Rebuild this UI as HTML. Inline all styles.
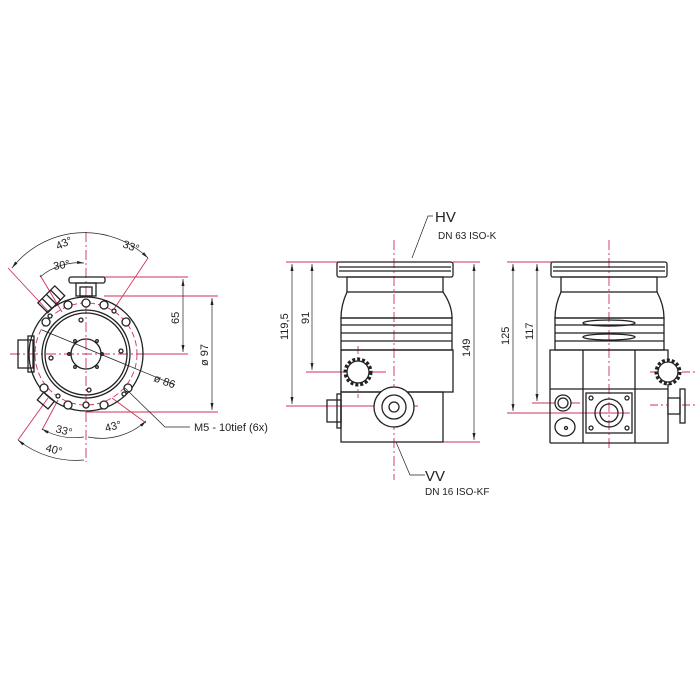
<!DOCTYPE html>
<html><head><meta charset="utf-8"><style>
html,body{margin:0;padding:0;background:#fff;}
svg{display:block}
text{font-family:"Liberation Sans",sans-serif;fill:#222}
</style></head><body>
<svg width="700" height="700" viewBox="0 0 700 700" xmlns="http://www.w3.org/2000/svg">
<defs>
<marker id="a" markerWidth="8" markerHeight="8" refX="7" refY="4" orient="auto-start-reverse" markerUnits="userSpaceOnUse"><path d="M0,2.5 L7,4 L0,5.5 z" fill="#222"/></marker>
</defs>
<g fill="none" stroke="#d0305a" stroke-width="0.9">
<line x1="86" y1="232" x2="86" y2="462" stroke-dasharray="10,3,2,3"/>
<line x1="10" y1="354" x2="150" y2="354" stroke-dasharray="10,3,2,3"/>
<line x1="104" y1="277" x2="188" y2="277"/>
<line x1="104" y1="296" x2="218" y2="296"/>
<line x1="140" y1="354" x2="188" y2="354"/>
<line x1="86" y1="412" x2="218" y2="412"/>
<line x1="8" y1="268" x2="48" y2="311"/>
<line x1="40" y1="275" x2="62" y2="312"/>
<line x1="148" y1="258" x2="114" y2="309"/>
<line x1="48" y1="398" x2="18" y2="440"/>
<line x1="58" y1="400" x2="42" y2="430"/>
<line x1="112" y1="398" x2="146" y2="423"/>
<circle cx="86" cy="354" r="51" stroke-dasharray="6,3"/>
<line x1="394" y1="240" x2="394" y2="480" stroke-dasharray="10,3,2,3"/>
<line x1="286" y1="262" x2="340" y2="262"/>
<line x1="453" y1="262" x2="480" y2="262"/>
<line x1="306" y1="372" x2="386" y2="372"/>
<line x1="358" y1="346" x2="358" y2="398" stroke-dasharray="8,3,2,3"/>
<line x1="286" y1="406" x2="418" y2="406"/>
<line x1="443" y1="442" x2="480" y2="442"/>
<line x1="609" y1="240" x2="609" y2="450" stroke-dasharray="10,3,2,3"/>
<line x1="507" y1="262" x2="552" y2="262"/>
<line x1="532" y1="403" x2="580" y2="403"/>
<line x1="507" y1="413" x2="630" y2="413"/>
<line x1="650" y1="372" x2="695" y2="372" stroke-dasharray="8,3,2,3"/>
<line x1="668" y1="355" x2="668" y2="392" stroke-dasharray="8,3,2,3"/>
<line x1="650" y1="405" x2="695" y2="405" stroke-dasharray="8,3,2,3"/>
</g>
<g fill="none" stroke="#222" stroke-width="1.3">
<circle cx="86" cy="354" r="57"/>
<circle cx="86" cy="354" r="44"/>
<circle cx="86" cy="354" r="41"/>
<circle cx="86" cy="354" r="15"/>
<rect x="76" y="283" width="20" height="13"/>
<rect x="80" y="287" width="12" height="9"/>
<rect x="69" y="277" width="36" height="6" rx="2"/>
<rect x="18" y="340" width="15" height="28"/>
<rect x="28" y="336" width="6" height="36"/>
<g transform="rotate(-45 52 300)"><rect x="40" y="292" width="24" height="14"/><line x1="46" y1="292" x2="46" y2="306"/><line x1="52" y1="292" x2="52" y2="306"/><line x1="58" y1="292" x2="58" y2="306"/></g>
<g transform="rotate(40 46 402)"><rect x="38" y="396" width="14" height="10"/></g>
<g fill="#fff">
<circle cx="86" cy="303" r="4"/><circle cx="68" cy="305" r="4"/><circle cx="104" cy="305" r="4"/>
<circle cx="46" cy="322" r="4"/><circle cx="126" cy="322" r="4"/>
<circle cx="44" cy="388" r="4"/><circle cx="128" cy="388" r="4"/>
<circle cx="68" cy="405" r="4"/><circle cx="86" cy="405" r="3"/><circle cx="104" cy="405" r="4"/>
<circle cx="58" cy="396" r="2"/><circle cx="114" cy="311" r="2"/><circle cx="50" cy="316" r="2"/><circle cx="124" cy="394" r="2"/>
</g>
<circle cx="81" cy="320" r="2"/><circle cx="121" cy="351" r="2"/><circle cx="51" cy="358" r="2"/><circle cx="89" cy="390" r="2"/>
<circle cx="75" cy="341" r="1.3"/><circle cx="97" cy="341" r="1.3"/><circle cx="102" cy="354" r="1.3"/><circle cx="97" cy="367" r="1.3"/><circle cx="75" cy="367" r="1.3"/><circle cx="69" cy="354" r="1.3"/>
</g>
<g fill="none" stroke="#222" stroke-width="0.7">
<line x1="42" y1="330" x2="175" y2="385"/>
<path d="M125,388 L165,427 L190,427"/>
<line x1="183" y1="279" x2="183" y2="352" marker-start="url(#a)" marker-end="url(#a)"/>
<line x1="212" y1="298" x2="212" y2="410" marker-start="url(#a)" marker-end="url(#a)"/>
<path d="M12,268 A92,92 0 0 1 148,258" marker-start="url(#a)" marker-end="url(#a)"/>
<path d="M40,277 A60,60 0 0 1 84,263" marker-end="url(#a)"/>
<path d="M42,429 A66,66 0 0 0 84,437" marker-start="url(#a)"/>
<path d="M88,437 A66,66 0 0 0 146,421" marker-end="url(#a)"/>
<path d="M18,440 A92,92 0 0 0 84,460" marker-start="url(#a)"/>
<path d="M396,442 L410,475 L425,475"/>
<line x1="292" y1="264" x2="292" y2="404" marker-start="url(#a)" marker-end="url(#a)"/>
<line x1="312" y1="264" x2="312" y2="370" marker-start="url(#a)" marker-end="url(#a)"/>
<line x1="474" y1="264" x2="474" y2="440" marker-start="url(#a)" marker-end="url(#a)"/>
<line x1="513" y1="264" x2="513" y2="411" marker-start="url(#a)" marker-end="url(#a)"/>
<line x1="537" y1="264" x2="537" y2="401" marker-start="url(#a)" marker-end="url(#a)"/>
<path d="M433,216 L428,216 L412,258"/>
</g>
<g fill="none" stroke="#222" stroke-width="1.3">
<rect x="337" y="262" width="116" height="15" rx="2"/>
<line x1="339" y1="267" x2="451" y2="267"/><line x1="339" y1="271" x2="451" y2="271"/>
<rect x="347" y="277" width="96" height="15"/>
<path d="M347,292 Q341,305 341,318 L452,318 Q452,305 443,292"/>
<rect x="341" y="318" width="111" height="32"/>
<line x1="341" y1="325" x2="452" y2="325"/><line x1="341" y1="333" x2="452" y2="333"/><line x1="341" y1="341" x2="452" y2="341"/>
<rect x="341" y="350" width="112" height="42"/>
<rect x="341" y="392" width="102" height="50"/>
<circle cx="394" cy="407" r="20" fill="#fff"/><circle cx="394" cy="407" r="12"/><circle cx="394" cy="407" r="5"/>
<circle cx="358" cy="372" r="13" fill="#fff" stroke-width="3" stroke-dasharray="3,2"/><circle cx="358" cy="372" r="11"/>
<rect x="327" y="400" width="14" height="22"/><rect x="337" y="394" width="4" height="34"/>
</g>
<g fill="none" stroke="#222" stroke-width="1.3">
<rect x="551" y="262" width="116" height="15" rx="2"/>
<line x1="553" y1="267" x2="665" y2="267"/><line x1="553" y1="271" x2="665" y2="271"/>
<rect x="561" y="277" width="96" height="15"/>
<path d="M561,292 Q555,305 555,318 L664,318 Q664,305 657,292"/>
<rect x="555" y="318" width="109" height="32"/>
<line x1="555" y1="325" x2="664" y2="325"/><line x1="555" y1="333" x2="664" y2="333"/><line x1="555" y1="341" x2="664" y2="341"/>
<ellipse cx="609" cy="323" rx="26" ry="3"/><ellipse cx="609" cy="337" rx="26" ry="3"/>
<path d="M550,443 L550,350 L583,350 L583,443 M583,350 L635,350 L635,443 M550,389 L668,389 L668,443 L550,443 M635,350 L668,350 L668,389"/>
<rect x="586" y="393" width="46" height="40"/>
<circle cx="609" cy="413" r="14"/><circle cx="609" cy="413" r="9"/>
<circle cx="591" cy="398" r="2"/><circle cx="627" cy="398" r="2"/><circle cx="591" cy="428" r="2"/><circle cx="627" cy="428" r="2"/>
<circle cx="563" cy="403" r="8" fill="#fff"/><circle cx="563" cy="403" r="5"/>
<ellipse cx="565" cy="427" rx="10" ry="9"/><circle cx="566" cy="428" r="1.5"/>
<circle cx="668" cy="372" r="12" fill="#fff" stroke-width="3" stroke-dasharray="3,2"/><circle cx="668" cy="372" r="10"/>
<rect x="668" y="398" width="12" height="16" fill="#fff"/><rect x="680" y="389" width="5" height="34"/>
</g>
<g font-size="11">
<text x="58" y="250" transform="rotate(-25 58 250)">43°</text>
<text x="122" y="247" transform="rotate(20 122 247)">33°</text>
<text x="54" y="270" transform="rotate(-10 54 270)">30°</text>
<text x="55" y="432" transform="rotate(15 55 432)">33°</text>
<text x="106" y="432" transform="rotate(-15 106 432)">43°</text>
<text x="45" y="451" transform="rotate(15 45 451)">40°</text>
<text x="179" y="324" transform="rotate(-90 179 324)">65</text>
<text x="208" y="366" transform="rotate(-90 208 366)">ø 97</text>
<text x="153" y="381" transform="rotate(20 153 381)">ø 86</text>
<text x="194" y="431">M5 - 10tief (6x)</text>
<text x="288" y="340" transform="rotate(-90 288 340)">119,5</text>
<text x="309" y="324" transform="rotate(-90 309 324)">91</text>
<text x="470" y="357" transform="rotate(-90 470 357)">149</text>
<text x="509" y="345" transform="rotate(-90 509 345)">125</text>
<text x="533" y="340" transform="rotate(-90 533 340)">117</text>
<text x="435" y="222" font-size="15">HV</text>
<text x="438" y="239" font-size="10">DN 63 ISO-K</text>
<text x="425" y="481" font-size="15">VV</text>
<text x="425" y="495" font-size="10">DN 16 ISO-KF</text>
</g>
</svg>
</body></html>
